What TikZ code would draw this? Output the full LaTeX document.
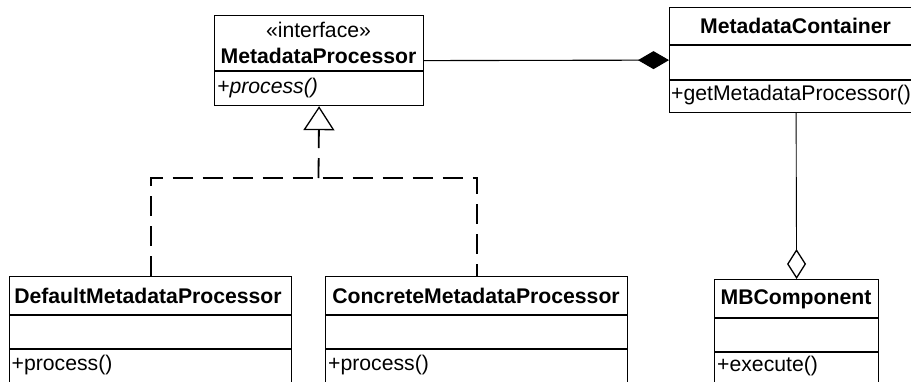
\documentclass[tikz,border=0pt]{standalone}
\usepackage{fontspec}
\setmainfont{Liberation Sans}
\usetikzlibrary{arrows.meta}
\begin{document}
\begin{tikzpicture}[x=1pt,y=-1pt,
  classbox/.style={draw, line width=1.2pt, inner sep=0pt, anchor=north west},
  sepline/.style={line width=1.6pt},
  title/.style={font=\bfseries\fontsize{21.2}{25}\selectfont, inner sep=0pt, anchor=base},
  stereo/.style={font=\fontsize{21.2}{25}\selectfont, inner sep=0pt, anchor=base},
  member/.style={font=\fontsize{21.2}{25}\selectfont, inner sep=0pt, anchor=base west},
  amember/.style={font=\itshape\fontsize{21.2}{25}\selectfont, inner sep=0pt, anchor=base west},
  realize/.style={line width=1.8pt, dash pattern=on 20pt off 10pt},
  assoc/.style={line width=1.1pt}
]
\useasboundingbox (0,0) rectangle (911,381);
\clip (0,0) rectangle (911,381);

% class boxes
\node[classbox, minimum width=209pt, minimum height=90pt] (proc) at (214,15) {};
\node[classbox, minimum width=253pt, minimum height=105pt] (cont) at (669,7) {};
\node[classbox, minimum width=282pt, minimum height=130pt] (def) at (9,276) {};
\node[classbox, minimum width=302pt, minimum height=130pt] (conc) at (325,276) {};
\node[classbox, minimum width=164pt, minimum height=130pt] (mb) at (714,279) {};

% compartments
\draw[sepline] ([yshift=-56pt]proc.north west) -- ([yshift=-56pt]proc.north east);
\draw[sepline] ([yshift=-38pt]cont.north west) -- ([yshift=-38pt]cont.north east);
\draw[sepline] ([yshift=-73pt]cont.north west) -- ([yshift=-73pt]cont.north east);
\draw[sepline] ([yshift=-39pt]def.north west) -- ([yshift=-39pt]def.north east);
\draw[sepline] ([yshift=-73pt]def.north west) -- ([yshift=-73pt]def.north east);
\draw[sepline] ([yshift=-39pt]conc.north west) -- ([yshift=-39pt]conc.north east);
\draw[sepline] ([yshift=-73pt]conc.north west) -- ([yshift=-73pt]conc.north east);
\draw[sepline] ([yshift=-39pt]mb.north west) -- ([yshift=-39pt]mb.north east);
\draw[sepline] ([yshift=-73pt]mb.north west) -- ([yshift=-73pt]mb.north east);

% texts
\node[stereo] (procst) at (318.5,37) {«interface»};
\node[title] (procname) at (318.5,63) {MetadataProcessor};
\node[amember] (procop) at (217,93) {+process()};

\node[title] (contname) at (795.5,33) {MetadataContainer};
\node[member] (contop) at (671,100) {+getMetadataProcessor()};

\node[title] (defname) at (148,303) {DefaultMetadataProcessor};
\node[member] (defop) at (11.5,370) {+process()};

\node[title] (concname) at (476,303) {ConcreteMetadataProcessor};
\node[member] (concop) at (328,370) {+process()};

\node[title] (mbname) at (796,304) {MBComponent};
\node[member] (mbop) at (717,371) {+execute()};

% connectors
\coordinate (j) at (318.5,178);
\draw[realize] (def.north) |- (j) -| (conc.north);
\draw[realize, -{Triangle[open, length=24pt, width=31pt, line width=1.3pt]}] (j) -- (proc.south);
\draw[assoc, -{Diamond[length=31pt, width=18pt]}] (proc.east) -- (cont.west);
\draw[line width=0.9pt, -{Diamond[open, length=30pt, width=19pt, line width=1.3pt]}] (cont.south) -- (mb.north);
\end{tikzpicture}
\end{document}
